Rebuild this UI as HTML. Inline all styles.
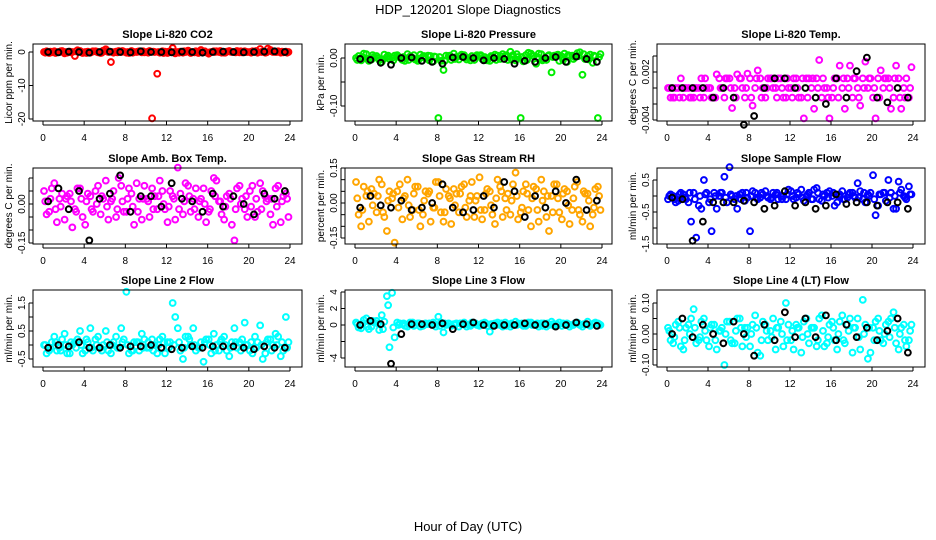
<!DOCTYPE html>
<html><head><meta charset="utf-8"><style>
body{margin:0;background:#fff}
svg{display:block}
text{font-family:"Liberation Sans",sans-serif}
</style></head><body>
<svg id="c" width="936" height="540" viewBox="0 0 936 540">
<text x="468" y="14" font-size="13" text-anchor="middle">HDP_120201  Slope Diagnostics</text>
<text x="468" y="531" font-size="13" text-anchor="middle">Hour of Day (UTC)</text>
</svg>
<script>
const H=[0.1,0.6,1.1,1.6,2.1,2.6,3.1,3.6,4.1,4.6,5.1,5.6,6.1,6.6,7.1,7.6,8.1,8.6,9.1,9.6,10.1,10.6,11.1,11.6,12.1,12.6,13.1,13.6,14.1,14.6,15.1,15.6,16.1,16.6,17.1,17.6,18.1,18.6,19.1,19.6,20.1,20.6,21.1,21.6,22.1,22.6,23.1,23.6];
const H2=[0.35,0.85,1.35,1.85,2.35,2.85,3.35,3.85,4.35,4.85,5.35,5.85,6.35,6.85,7.35,7.85,8.35,8.85,9.35,9.85,10.35,10.85,11.35,11.85,12.35,12.85,13.35,13.85,14.35,14.85,15.35,15.85,16.35,16.85,17.35,17.85,18.35,18.85,19.35,19.85,20.35,20.85,21.35,21.85,22.35,22.85,23.35,23.85];
const H3=[0.22,0.72,1.22,1.72,2.22,2.72,3.22,3.72,4.22,4.72,5.22,5.72,6.22,6.72,7.22,7.72,8.22,8.72,9.22,9.72,10.22,10.72,11.22,11.72,12.22,12.72,13.22,13.72,14.22,14.72,15.22,15.72,16.22,16.72,17.22,17.72,18.22,18.72,19.22,19.72,20.22,20.72,21.22,21.72,22.22,22.72,23.22,23.72];
const HK=[0.5,1.5,2.5,3.5,4.5,5.5,6.5,7.5,8.5,9.5,10.5,11.5,12.5,13.5,14.5,15.5,16.5,17.5,18.5,19.5,20.5,21.5,22.5,23.5];
const xTicks=[0,4,8,12,16,20,24];

const co2A=[0,-0.3,0.2,0,-0.4,0.1,-1.2,0.3,0,-0.2,0.2,-0.3,0.8,-3,0.1,0,-0.2,0.3,0,-0.1,0,-19.8,-6.5,0.2,-0.3,1.2,0,-0.2,0.4,0,-0.3,0.1,-0.5,0.2,0,-0.2,0.3,0,-0.1,0.2,0,0.1,0.9,-0.2,0.6,0,-0.2,0.1];
const co2B=[0.2,-0.1,0,0.3,-0.2,0,0.5,-0.3,0.1,0.2,-0.1,0.4,0,-0.2,0.3,0.1,-0.3,0,0.2,-0.1,0.3,0,-0.2,0.1,0.2,-0.4,0.1,0,-0.3,0.2,0.6,-0.1,0,0.2,-0.2,0.1,0,0.3,-0.1,0,0.2,-0.2,0.1,1,0,0.2,-0.1,0];
const co2C=[-0.2,0.1,-0.3,0.2,0,-0.1,0.2,0,-0.3,0,0.1,-0.2,0.2,0,-0.1,0.3,0,-0.2,0.1,0.2,-0.2,0.1,0,-0.3,0.1,0,-0.2,0.2,0.1,-0.1,0,0.2,-0.1,0,0.3,-0.2,0.1,-0.1,0.2,0,-0.2,0.3,0,-0.1,0.2,0,0.1,-0.2];
const co2K=[0,-0.1,0.1,0,-0.2,0,0.1,0,-0.1,0.2,0,0,-0.1,0.1,0,-0.2,0,0.1,0,-0.1,0,0.1,0.2,0];

const presA=[0,-0.005,0.008,-0.003,0.004,-0.008,0.002,0,0.006,-0.004,0.008,0,-0.006,0.003,0.005,-0.007,-0.125,-0.025,0.004,0.009,-0.003,0.006,0,-0.004,0.005,0.002,-0.006,0.007,-0.002,0.004,0.013,-0.005,-0.125,0.006,0.009,-0.012,0.008,-0.004,-0.03,0.006,0.003,-0.008,0.005,0.01,-0.035,0.004,-0.01,-0.125];
const presB=[0.004,0.009,-0.006,0.002,-0.004,0.007,-0.002,0.005,0.001,-0.006,0.003,-0.003,0.007,-0.001,0.004,0.002,-0.006,0.005,-0.004,0.002,0.007,-0.003,0.004,0.006,-0.002,-0.005,0.003,0.005,0.008,-0.004,0.006,0.002,-0.007,0.011,0.004,0.009,-0.003,0.006,0.005,-0.006,0.009,0.004,0.002,0.012,-0.002,0.007,0.003,0.008];
const presC=[-0.004,0.002,-0.002,0.006,0,-0.003,0.005,-0.005,0.003,0.002,-0.004,0.006,-0.002,0.004,-0.005,0.003,0.002,-0.006,0.005,-0.002,0.004,0.001,-0.005,0.003,0.006,-0.002,0.004,-0.004,0.003,0.006,-0.003,0.008,0.002,-0.004,0.005,0.002,-0.005,0.004,0.002,0.007,-0.004,0.006,-0.002,0.004,0.008,-0.003,0.005,0.002];
const presK=[-0.002,-0.004,-0.01,-0.014,0,0.001,-0.006,-0.008,-0.012,0.001,0.002,0,-0.005,0,-0.002,-0.012,-0.006,-0.008,0,0.002,-0.008,0.003,-0.002,-0.008];

const tempA=[0,-0.0012,0,-0.0012,0,-0.0012,0,-0.0012,0,-0.0012,0.0012,-0.0012,0.0012,0,0.0012,-0.0012,0.0012,0,0.0012,-0.0012,0.0012,0,0.0012,-0.0012,0,0.0012,-0.0012,0.0012,0,0.0012,-0.0012,0,-0.0012,0.0012,0,0.0012,-0.0012,0,0.0012,0,-0.0012,0.0012,0,0.0012,-0.0012,0.0012,0,-0.0012];
const tempB=[-0.0012,0,0.0012,0,-0.0012,0,0.0012,0,-0.0012,0.0017,0,0.0012,-0.0025,0.0017,0,0.0018,-0.0022,0.0022,0,0.0012,0,0.0012,-0.0012,0,0.0012,-0.0012,-0.0038,0.0012,-0.0026,0.0035,0,-0.0038,0.0012,0.0028,-0.0026,0.0028,0.0012,-0.0022,0.0033,0.0012,-0.0038,0.0022,0.0012,-0.0026,0.0028,-0.0026,0.0012,0.0026];
const tempC=[0,-0.0012,-0.0012,0,-0.0012,0,-0.0012,0.0012,0,-0.0012,0,0.0012,0,-0.0012,0.0012,0,-0.0012,0.0012,-0.0012,0,0.0012,-0.0012,0,0.0012,-0.0012,0,0.0012,-0.0012,0.0012,0,0.0012,-0.0012,0,-0.0012,0.0012,0,0.0012,-0.0012,0,0.0012,0,-0.0012,0.0012,0,0.0012,-0.0012,-0.0012,0];
const tempK=[0,0,0,0,-0.0012,0,-0.0012,-0.0046,-0.0035,0,0.0012,0.0012,0,0,-0.0012,-0.002,0.0012,-0.0012,0.0021,0.0038,-0.0012,-0.0018,0,-0.0012];

const ambA=[0.05,-0.03,0.08,0.02,-0.06,0.04,-0.02,0.06,-0.08,0.03,0.05,-0.04,0.09,0.01,-0.05,0.07,-0.03,0.04,0.08,-0.06,0.02,0.06,-0.02,0.05,-0.07,0.03,0.14,-0.04,0.07,0.02,-0.05,0.06,-0.03,0.1,0.01,-0.06,0.04,-0.14,0.07,-0.02,0.05,-0.05,0.08,0.03,-0.04,0.06,-0.07,0.04];
const ambB=[-0.04,0.06,-0.07,0.04,0.03,-0.09,0.06,-0.05,0.04,-0.03,0.07,0.02,-0.06,0.05,0.1,-0.03,0.06,-0.08,0.02,0.07,-0.05,0.03,0.09,-0.02,0.05,-0.06,0.04,0.08,-0.03,0.06,0.02,-0.07,0.05,0.09,-0.04,0.03,-0.08,0.06,0.02,-0.05,0.07,-0.03,0.05,0.02,-0.08,0.07,0.03,-0.05];
const ambC=[0.01,0.02,-0.02,-0.01,0.02,0.01,-0.03,0.02,0.01,-0.02,0,0.03,-0.01,0.02,-0.02,0.01,0.02,-0.01,-0.03,0.02,0.01,-0.02,0.03,0,-0.01,0.02,-0.02,0.01,0.03,-0.02,0.01,0,-0.02,0.03,0.01,-0.01,0.02,-0.02,0,0.03,-0.01,0.02,-0.02,0.01,0.02,-0.01,0.01,0.02];
const ambK=[0.01,0.06,-0.02,0.05,-0.14,0.02,0.04,0.11,-0.03,0.03,0.03,-0.01,0.08,0.02,0.01,-0.03,0.04,-0.01,0.03,0,-0.04,0.04,0.02,0.05];

const rhA=[0.09,-0.1,0.03,0.06,-0.04,0.08,-0.12,0.02,0.05,-0.07,0.1,-0.03,0.07,-0.05,0.04,-0.02,0.09,-0.08,0.03,0.06,-0.04,0.08,0.01,-0.06,0.11,-0.03,0.05,-0.09,0.07,0.02,-0.05,0.13,-0.04,0.08,-0.1,0.06,0.1,-0.06,0.03,0.08,-0.07,0.05,-0.03,0.09,-0.08,0.04,-0.05,0.07];
const rhB=[-0.05,0.07,-0.08,0.04,0.1,-0.06,0.05,-0.17,0.08,0.03,-0.06,0.07,-0.1,0.05,-0.08,0.09,-0.04,0.06,-0.09,0.04,0.07,-0.06,0.09,0.03,-0.07,0.06,-0.05,0.1,-0.06,0.04,0.08,-0.07,0.05,-0.03,0.07,-0.08,0.05,-0.12,0.08,-0.04,0.06,-0.09,0.07,-0.05,0.04,-0.1,0.06,-0.03];
const rhC=[0.02,-0.03,0.05,-0.01,0.03,-0.04,0.01,0.04,-0.02,0.02,-0.01,0.04,-0.03,0.01,0.05,-0.02,0.03,-0.04,0.02,-0.01,0.04,-0.02,0.03,0.01,-0.03,0.04,-0.01,0.02,0.05,-0.03,0.01,0.03,-0.02,0.04,0.02,-0.03,0.01,0.03,-0.04,0.02,0.04,-0.01,0.02,-0.03,0.05,0.01,-0.02,0.03];
const rhK=[-0.02,0.03,-0.01,-0.02,0.01,-0.03,-0.02,0,0.08,-0.02,-0.04,-0.03,0.03,-0.02,0.09,0.05,-0.06,0.03,-0.02,0.05,0,0.1,-0.03,0.01];

const sfA=[-0.1,0,-0.15,0.05,-0.2,0.1,-0.3,0.5,-0.2,0.1,0,0.6,0.9,-0.1,0.05,-0.15,-1.1,0.1,-0.05,0.15,-0.1,0.05,0,-0.1,0.15,-0.05,0.2,0,-0.1,0.25,-0.15,0.1,0,-0.2,0.15,-0.05,0.1,0.4,-0.1,0.05,0.65,-0.3,0.1,0.5,-0.4,0.45,0,0.3];
const sfB=[0.05,-0.2,0.1,-0.1,-0.8,-1.3,-0.4,0.1,-1.1,-0.4,0.1,-0.2,0,-0.4,0.1,-0.05,0.15,-0.1,0.05,-0.05,0.1,-0.1,0,0.2,-0.1,0.05,-0.15,0.1,0.2,-0.1,0,0.15,-0.3,0.05,-0.1,0.1,-0.05,0.15,-0.2,0.1,-0.6,0.05,-0.15,0.1,-0.4,0.2,-0.1,0.05];
const sfC=[0,-0.1,0.05,-0.05,0.1,-0.1,0,0.05,-0.1,0,0.1,-0.05,0.05,0,-0.1,0.1,0,-0.05,0.1,0,-0.05,0.1,-0.1,0.05,0,0.1,-0.05,0.05,-0.1,0.1,0.05,-0.05,0.1,0,-0.1,0.05,0,-0.05,0.1,0,-0.1,0.05,0.1,-0.05,0,0.1,-0.05,0.05];
const sfK=[-0.05,-0.1,-1.4,-0.8,-0.2,-0.2,-0.2,-0.15,-0.2,-0.4,-0.3,0.15,-0.3,-0.2,-0.4,-0.3,0.05,-0.25,-0.2,-0.2,-0.3,-0.2,-0.2,-0.4];

const l2A=[0,-0.2,0.3,-0.1,0.4,-0.3,0.1,0.5,-0.2,0.6,0.2,-0.1,0.5,-0.3,0.3,0.6,1.9,-0.2,0.1,0.4,-0.1,0.2,-0.3,0.3,0.1,1.5,0.6,-0.5,0.3,0.6,-0.1,-0.6,0.2,0.4,-0.2,0.3,-0.4,0.6,0.1,0.8,-0.2,0.3,0.7,-0.3,0.2,0.4,-0.4,1.0];
const l2B=[-0.3,0.1,-0.2,0.2,-0.3,0,0.2,-0.3,0.1,-0.2,0.3,0,-0.2,0.1,-0.1,0.2,-0.3,0.1,-0.2,0.2,-0.1,0,0.2,-0.3,0.1,1.0,-0.2,0.3,0,-0.2,0.1,0.2,-0.3,0,0.2,-0.2,0.1,-0.1,0.2,0,-0.3,0.1,-0.5,0.2,0,0.3,-0.2,0.1];
const l2C=[0,-0.1,0.1,-0.2,0,0.1,-0.1,0,0.2,-0.1,0,-0.2,0.1,0,-0.1,0.1,0,-0.2,0.1,-0.1,0.1,-0.2,0,0.1,-0.1,0,0.1,-0.1,0.2,0,-0.1,0.1,0,-0.2,0.1,0,-0.1,0.1,-0.2,0,0.1,-0.1,0,0.1,-0.2,0,0.1,-0.1];
const l2K=[-0.1,0,-0.05,0.1,-0.1,-0.1,0,-0.1,-0.05,-0.05,0,-0.1,-0.15,-0.1,-0.05,-0.1,-0.05,-0.05,-0.05,-0.1,-0.15,-0.05,-0.1,-0.1];

const l3A=[0.3,-0.4,0.8,-0.2,0.5,1.2,3.5,3.9,0.3,0.1,-0.2,0.3,0.2,-0.1,0.1,0.3,1.0,-0.9,0.2,0.1,-0.2,0.3,0,0.2,-0.1,0.3,-0.8,0.2,0,0.3,-0.2,0.4,0.1,-0.1,0.3,0,0.2,-0.2,0.4,0.1,-0.1,0.2,0,0.3,-0.2,0.4,0.1,0.2];
const l3B=[-0.3,0.6,-0.5,0.3,-0.6,0.4,-2.7,-1.5,0.2,-0.1,0.3,0,-0.2,0.2,0.1,-0.2,0.3,0,-0.1,0.2,0.1,-0.2,0.3,0,0.2,-0.1,0.1,0.3,-0.2,0.1,0,0.2,-0.1,0.3,0.1,-0.2,0.2,0,-0.1,0.3,0.1,-0.2,0.2,0,0.1,-0.1,0.3,0];
const l3C=[0.1,0.2,-0.2,0.5,0.2,-0.5,2.4,-0.3,0,0.2,0.1,-0.1,0.2,0,0.2,0.1,-0.1,0.2,0.1,0,0.2,0.1,-0.1,0.2,0,0.2,0.1,0,0.2,-0.1,0.2,0,0.2,0.1,0,0.2,-0.1,0.2,0.1,0,0.2,0.1,0,0.2,0.1,0,0.2,0.1];
const l3K=[0,0.5,0.1,-4.7,-1.1,0.1,0.1,0,0.2,-0.5,0.1,0.3,0,-0.1,0,0,0.2,0,0.1,-0.2,0,0.3,0.1,-0.1];

const l4A=[0.02,-0.03,0.04,-0.05,0.03,0.08,-0.02,0.05,-0.04,0.03,0.01,-0.1,0.04,-0.03,0.05,0.02,-0.04,0.06,-0.07,0.03,0.01,-0.05,0.04,0.1,-0.02,0.03,-0.06,0.05,0.02,-0.04,0.06,-0.03,0.04,-0.05,0.06,0.03,-0.06,0.05,0.11,-0.08,0.02,0.05,-0.03,0.04,0.07,-0.05,0.03,-0.02];
const l4B=[-0.02,0.03,-0.04,0.02,0.05,-0.03,0.04,-0.02,0.03,-0.05,0.02,0.04,-0.03,0.05,-0.04,0.02,0.03,-0.06,0.04,-0.02,0.05,0.02,-0.04,0.03,-0.05,0.02,0.04,-0.03,0.02,0.05,-0.04,0.03,-0.02,0.04,-0.03,0.05,0.02,-0.05,0.03,-0.06,0.04,-0.02,0.03,0.05,-0.03,0.02,-0.04,0.03];
const l4C=[0.01,-0.01,0.02,-0.02,0,0.02,-0.01,0.01,0.02,-0.02,0.01,0,-0.02,0.01,0.02,-0.01,0,0.02,-0.02,0.01,-0.01,0.02,0,-0.02,0.01,0.02,-0.01,0,0.02,-0.02,0.01,-0.01,0.02,0,-0.02,0.01,0.02,-0.01,0,0.02,-0.02,0.01,0,-0.01,0.02,0,-0.02,0.01];
const l4K=[0,0.05,-0.01,0.03,0,-0.03,0.04,0,-0.07,0.03,-0.02,0.07,-0.01,0.05,-0.01,0.06,-0.02,0.03,-0.01,0.02,-0.02,0.01,0.05,-0.06];

const cols=[{l:33,r:302,x0:43,x24:290},{l:345,r:612,x0:355,x24:602},{l:657,r:925,x0:667,x24:913}];
const rows=[{t:44,b:121},{t:168,b:244},{t:290,b:367}];
const panels=[
 {c:0,r:0,title:"Slope Li-820 CO2",yt:"Licor ppm per min.",col:"#ff0000",a:co2A,b:co2B,cc:co2C,k:co2K,v1:0,p1:52,v2:-20,p2:119,ticks:[0,-10,-20],labels:["0","-10","-20"]},
 {c:1,r:0,title:"Slope Li-820 Pressure",yt:"kPa per min.",col:"#00ee00",a:presA,b:presB,cc:presC,k:presK,v1:0,p1:58,v2:-0.1,p2:106,ticks:[0,-0.05,-0.1],labels:["0.00","","-0.10"]},
 {c:2,r:0,title:"Slope Li-820 Temp.",yt:"degrees C per min.",col:"#ff00ff",a:tempA,b:tempB,cc:tempC,k:tempK,v1:0.002,p1:72,v2:-0.004,p2:120,ticks:[0.004,0.002,0,-0.002,-0.004],labels:["","0.002","","","-0.004"]},
 {c:0,r:1,title:"Slope Amb. Box Temp.",yt:"degrees C per min.",col:"#ff00ff",a:ambA,b:ambB,cc:ambC,k:ambK,v1:0,p1:204,v2:-0.15,p2:243,ticks:[0.1,0.05,0,-0.05,-0.1,-0.15],labels:["","","0.00","","","-0.15"]},
 {c:1,r:1,title:"Slope Gas Stream RH",yt:"percent per min.",col:"#ffa500",a:rhA,b:rhB,cc:rhC,k:rhK,v1:0.15,p1:168,v2:-0.15,p2:238,ticks:[0.15,0.1,0.05,0,-0.05,-0.1,-0.15],labels:["0.15","","","0.00","","","-0.15"]},
 {c:2,r:1,title:"Slope Sample Flow",yt:"ml/min per min.",col:"#0000ff",a:sfA,b:sfB,cc:sfC,k:sfK,v1:0.5,p1:180,v2:-1.5,p2:244,ticks:[0.5,0,-0.5,-1,-1.5],labels:["0.5","","-0.5","","-1.5"]},
 {c:0,r:2,title:"Slope Line 2 Flow",yt:"ml/min per min.",col:"#00ffff",a:l2A,b:l2B,cc:l2C,k:l2K,v1:1.5,p1:303,v2:-0.5,p2:359,ticks:[1.5,1,0.5,0,-0.5],labels:["1.5","","0.5","","-0.5"]},
 {c:1,r:2,title:"Slope Line 3 Flow",yt:"ml/min per min.",col:"#00ffff",a:l3A,b:l3B,cc:l3C,k:l3K,v1:4,p1:292,v2:-4,p2:358,ticks:[4,2,0,-2,-4],labels:["4","2","0","","-4"]},
 {c:2,r:2,title:"Slope Line 4 (LT) Flow",yt:"ml/min per min.",col:"#00ffff",a:l4A,b:l4B,cc:l4C,k:l4K,v1:0.1,p1:303,v2:-0.1,p2:365,ticks:[0.1,0.05,0,-0.05,-0.1],labels:["0.10","","0.00","","-0.10"]}
];
const NS="http://www.w3.org/2000/svg";
const svg=document.getElementById('c');
function mk(tag,attrs,parent){const e=document.createElementNS(NS,tag);for(const k in attrs)e.setAttribute(k,attrs[k]);(parent||svg).appendChild(e);return e;}
panels.forEach((p,i)=>{
 const C=cols[p.c],R=rows[p.r];
 const g=mk('g',{});
 
 
 const xs=v=>C.x0+(C.x24-C.x0)*v/24;
 const ys=v=>p.p1+(p.p2-p.p1)*(v-p.v1)/(p.v2-p.v1);
 const t=mk('text',{x:(C.l+C.r)/2,y:R.t-6,'font-size':11,'font-weight':'bold','text-anchor':'middle'},g);t.textContent=p.title;
 
 
 const yt=mk('text',{x:0,y:0,'font-size':10,'text-anchor':'middle',transform:`translate(${C.l-21},${(R.t+R.b)/2}) rotate(-90)`},g);yt.textContent=p.yt;
 
 
 const drawPts=(xsArr,vals,color)=>{vals.forEach((v,j)=>{
   const c=mk('circle',{cx:xs(xsArr[j]),cy:ys(v),r:2.9,fill:'none',stroke:color,'stroke-width':2},g);
   
   
 });};
 drawPts(H,p.a,p.col);drawPts(H2,p.b,p.col);drawPts(H3,p.cc,p.col);drawPts(HK,p.k,'#000');
 const box=mk('rect',{x:C.l,y:R.t,width:C.r-C.l,height:R.b-R.t,fill:'none',stroke:'#000','stroke-width':1},g);
 
 
 xTicks.forEach(v=>{const x=xs(v);
   mk('line',{x1:x,x2:x,y1:R.b,y2:R.b+4,stroke:'#000'},g);
   const tl=mk('text',{x:x,y:R.b+20,'font-size':10,'text-anchor':'middle'},g);tl.textContent=v;
   
   
 });
 mk('line',{x1:xs(0),x2:xs(24),y1:R.b+4,y2:R.b+4,stroke:'#000'},g);
 p.ticks.forEach((v,j)=>{const y=ys(v);
   mk('line',{x1:C.l-4,x2:C.l,y1:y,y2:y,stroke:'#000'},g);
   if(p.labels[j]){const tl=mk('text',{x:0,y:0,'font-size':10,'text-anchor':'middle',transform:`translate(${C.l-8},${y}) rotate(-90)`},g);tl.textContent=p.labels[j];
   
   }
 });
 mk('line',{x1:C.l-4,x2:C.l-4,y1:ys(p.ticks[0]),y2:ys(p.ticks[p.ticks.length-1]),stroke:'#000'},g);
});
</script>
</body></html>
